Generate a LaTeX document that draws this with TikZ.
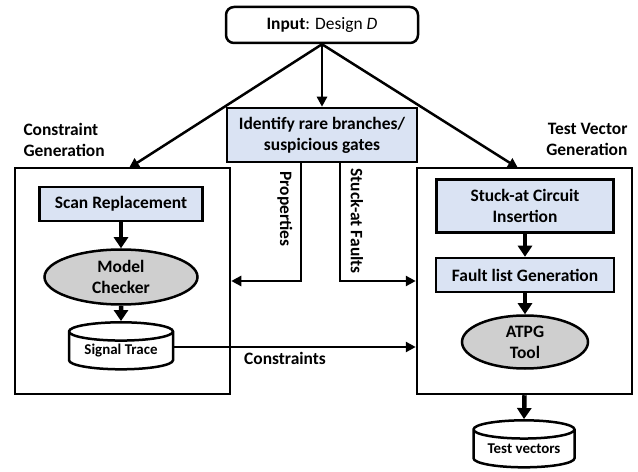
\documentclass[tikz,border=0pt]{standalone}
\usepackage{fontspec}
\setmainfont{Carlito}
\usepackage{xcolor}
\usepackage{tikz}
\usetikzlibrary{shapes,arrows,positioning,calc,arrows.meta}

\definecolor{boxblue}{HTML}{DAE3F3}
\definecolor{toolgray}{HTML}{CFCFCF}

\newcommand{\bigtext}{\fontsize{17.5}{21}\selectfont}
\newcommand{\smalltext}{\fontsize{15}{18}\selectfont}

\tikzset{
  flow/.style={line width=2.5bp, -{Triangle[length=10bp,width=10bp]}},
  bigflow/.style={line width=4.5bp, -{Triangle[length=11bp,width=14bp]}},
  procbox/.style={draw, line width=2.5bp, fill=boxblue, inner sep=0pt, align=center, font=\bfseries\bigtext},
  toolell/.style={draw, ellipse, line width=2.5bp, fill=toolgray, inner sep=0pt, align=center, font=\bfseries\bigtext},
  store/.style={draw, cylinder, shape border rotate=90, aspect=0.25, line width=2.5bp, fill=white, inner sep=0pt, font=\bfseries\smalltext},
  frame/.style={draw, line width=2.5bp, inner sep=0pt},
  note/.style={font=\bfseries\bigtext, align=left}
}

\begin{document}
\begin{tikzpicture}[x=1bp, y=-1bp]
    \useasboundingbox (0,0) rectangle (638,472);

    % Input and identification
    \node[draw, rounded corners=8bp, line width=2.5bp, minimum width=192bp, minimum height=36bp, inner sep=0pt, font=\bigtext] (input) at (322,25) {\textbf{Input}: Design \textit{D}};
    \node[procbox, minimum width=190bp, minimum height=54bp] (ident) at (322,135) {Identify rare branches/\\suspicious gates};

    % Constraint generation
    \node[frame, minimum width=215bp, minimum height=226bp] (cgbox) at (122.5,281) {};
    \node[note, anchor=north west] (cglabel) at (20,120) {Constraint\\Generation};
    \node[procbox, minimum width=163bp, minimum height=34bp] (scan) at (121,204) {Scan Replacement};
    \node[toolell, minimum width=153bp, minimum height=55bp] (mc) at (121,277) {Model\\Checker};
    \node[store, minimum width=104bp, minimum height=47bp] (sigtrace) at (121,351) {Signal Trace};

    % Test vector generation
    \node[frame, minimum width=215bp, minimum height=226bp] (tvbox) at (524.5,281) {};
    \node[note, align=right, anchor=north east] (tvlabel) at (631,120) {Test Vector\\Generation};
    \node[procbox, minimum width=177bp, minimum height=53bp] (stuck) at (525,206) {Stuck-at Circuit\\Insertion};
    \node[procbox, minimum width=178bp, minimum height=34bp] (fault) at (525,275) {Fault list Generation};
    \node[toolell, minimum width=126bp, minimum height=53bp] (atpg) at (525,342) {ATPG\\Tool};
    \node[store, minimum width=101bp, minimum height=47bp] (testvec) at (524,449) {Test vectors};

    % Connectors from input
    \coordinate (cgin) at (129,168);
    \coordinate (tvin) at (518,168);
    \draw[flow] (input.south) -- (ident.north);
    \draw[flow] (input.south) -- (cgin);
    \draw[flow] (input.south) -- (tvin);

    % Properties and faults
    \draw[flow] ([xshift=-21bp]ident.south) |- (cgbox.east);
    \draw[flow] ([xshift=18bp]ident.south) |- (tvbox.west);
    \node[font=\bfseries\bigtext, rotate=-90] (proplabel) at (285,209) {Properties};
    \node[font=\bfseries\bigtext, rotate=-90] (faultlabel) at (357,221) {Stuck-at Faults};

    % Inner steps
    \draw[bigflow] (scan.south) -- (mc.north);
    \draw[bigflow] (mc.south) -- (sigtrace.north);
    \draw[bigflow] (stuck.south) -- (fault.north);
    \draw[bigflow] (fault.south) -- (atpg.north);
    \draw[bigflow] (tvbox.south) -- (testvec.north);

    % Constraints
    \draw[flow] ([yshift=4bp]sigtrace.east) -- ([yshift=4bp]sigtrace.east -| tvbox.west);
    \node[font=\bfseries\bigtext, anchor=north] (conlabel) at (285,349) {Constraints};
\end{tikzpicture}
\end{document}
